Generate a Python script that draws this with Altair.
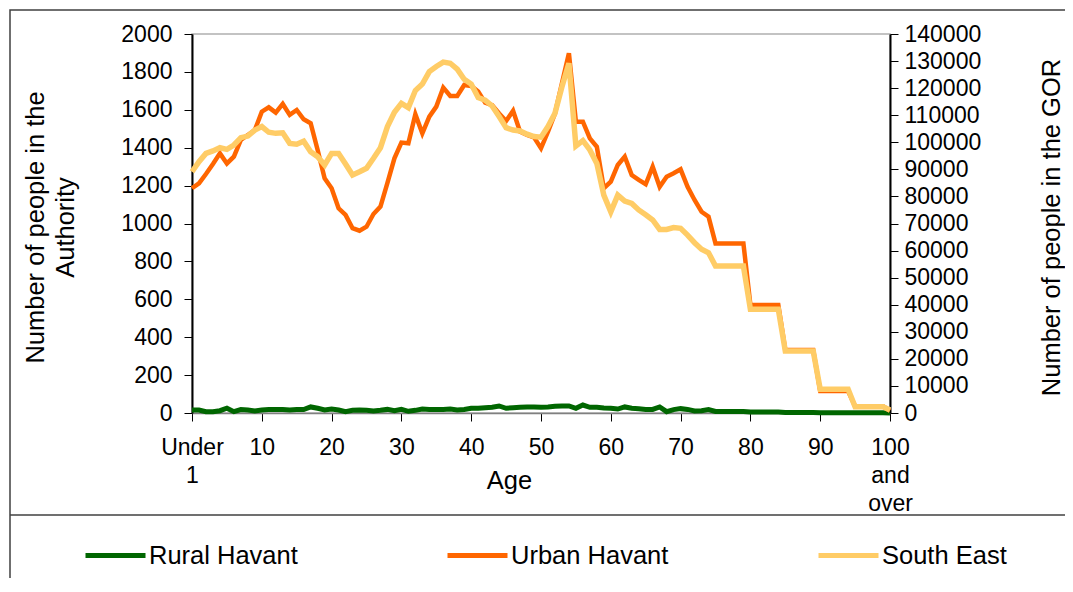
import altair as alt
import pandas as pd

ages = list(range(101))

rural = [16, 16, 7, 7, 12, 25, 7, 18, 16, 11,
         16, 18, 18, 18, 16, 18, 18, 32, 25, 16,
         21, 16, 7, 14, 16, 14, 11, 14, 19, 12,
         19, 9, 14, 21, 19, 18, 18, 21, 16, 19,
         25, 25, 28, 30, 37, 25, 28, 30, 32, 32,
         30, 32, 35, 37, 37, 25, 42, 30, 30, 26,
         25, 21, 32, 25, 23, 19, 19, 32, 7, 18,
         23, 19, 11, 12, 18, 8, 8, 8, 8, 8,
         5, 5, 5, 5, 5, 3, 3, 3, 3, 3,
         1, 1, 1, 1, 1, 1, 1, 1, 1, 1, 0]

urban = [1186, 1212, 1261, 1314, 1370, 1317, 1353, 1441, 1467, 1493,
         1590, 1613, 1585, 1631, 1573, 1599, 1550, 1529, 1388, 1238,
         1186, 1080, 1045, 975, 962, 983, 1050, 1089, 1215, 1344,
         1427, 1423, 1576, 1476, 1564, 1617, 1717, 1673, 1673, 1731,
         1726, 1696, 1638, 1625, 1581, 1541, 1595, 1485, 1467, 1455,
         1397, 1485, 1580, 1740, 1898, 1537, 1537, 1449, 1405, 1186,
         1221, 1309, 1353, 1256, 1230, 1207, 1300, 1194, 1247, 1265,
         1286, 1194, 1124, 1062, 1036, 895, 895, 895, 895, 895,
         570, 570, 570, 570, 570, 332, 332, 332, 332, 332,
         116, 116, 116, 116, 116, 35, 35, 35, 35, 35, 12]

south_east = [89100, 92800, 95900, 96800, 98000, 97400, 99000, 101700, 102300, 104500,
              105800, 103700, 103300, 103500, 99600, 99300, 100400, 96500, 94700, 91600,
              95900, 95900, 92000, 87900, 89100, 90400, 94100, 98000, 105800, 111100,
              114400, 112800, 119100, 121500, 126100, 128000, 129600, 129200, 127000, 123300,
              121500, 116500, 115600, 113400, 109500, 105400, 104500, 104200, 103000, 102100,
              101900, 105800, 110700, 120500, 129200, 98600, 100600, 97200, 92200, 80500,
              74300, 80500, 78300, 77400, 75000, 73200, 71300, 67800, 67800, 68500,
              68200, 65700, 62900, 60500, 59200, 54300, 54300, 54300, 54300, 54300,
              38300, 38300, 38300, 38300, 38300, 22900, 22900, 22900, 22900, 22900,
              8750, 8750, 8750, 8750, 8750, 2300, 2300, 2300, 2300, 2300, 1100]

series_names = ["Rural Havant", "Urban Havant", "South East"]
series_colors = ["#006600", "#FF6600", "#FFCC66"]

x_tick_values = list(range(0, 101, 10))
left_tick_values = list(range(0, 2001, 200))
right_tick_values = list(range(0, 140001, 10000))

FONT = "Liberation Sans"
TICK_FS = 23
TITLE_FS = 25.5

df_rural = pd.DataFrame({"age": ages, "value": rural, "series": series_names[0]})
df_urban = pd.DataFrame({"age": ages, "value": urban, "series": series_names[1]})
df_se = pd.DataFrame({"age": ages, "value": south_east, "series": series_names[2]})

color = alt.Color(
    "series:N",
    scale=alt.Scale(domain=series_names, range=series_colors),
    legend=alt.Legend(
        title=None,
        orient="none",
        legendX=-109,
        legendY=489,
        direction="horizontal",
        symbolType="stroke",
        symbolSize=3600,
        symbolStrokeWidth=5,
        labelFontSize=25.5,
        labelFont=FONT,
        labelColor="#000000",
        labelOffset=1,
        labelLimit=400,
        columnPadding=139,
    ),
)

x_enc = alt.X(
    "age:Q",
    scale=alt.Scale(domain=[0, 100], nice=False, zero=False),
    axis=alt.Axis(
        values=x_tick_values,
        labelExpr="datum.value == 0 ? ['Under', '1'] : (datum.value == 100 ? ['100', 'and', 'over'] : datum.label)",
        title="Age",
        titleFont=FONT,
        titleFontSize=TITLE_FS,
        titleFontWeight="normal",
        titleColor="#000000",
        titleX=317,
        titleY=67,
        titleAlign="center",
        titleBaseline="middle",
        labelFont=FONT,
        labelFontSize=TICK_FS,
        labelColor="#000000",
        labelLineHeight=28,
        labelPadding=15,
        labelOverlap=False,
        labelFlush=False,
        tickSize=8,
        tickColor="#000000",
        domainColor="#808080",
        domainWidth=1.5,
        grid=False,
    ),
)

y_left = alt.Y(
    "value:Q",
    scale=alt.Scale(domain=[0, 2000], nice=False),
    axis=alt.Axis(
        orient="left",
        values=left_tick_values,
        format="d",
        title=["Number of people in the", "Authority"],
        titleFont=FONT,
        titleFontSize=TITLE_FS,
        titleFontWeight="normal",
        titleColor="#000000",
        titleAngle=270,
        titleX=-157,
        titleY=193,
        titleAlign="center",
        titleBaseline="middle",
        titleLineHeight=30,
        labelFont=FONT,
        labelFontSize=TICK_FS,
        labelColor="#000000",
        labelPadding=12,
        tickSize=8,
        tickColor="#000000",
        domainColor="#000000",
        domainWidth=2,
        grid=False,
    ),
)

y_right = alt.Y(
    "value:Q",
    scale=alt.Scale(domain=[0, 140000], nice=False),
    axis=alt.Axis(
        orient="right",
        values=right_tick_values,
        format="d",
        title="Number of people in the GOR",
        titleFont=FONT,
        titleFontSize=TITLE_FS,
        titleFontWeight="normal",
        titleColor="#000000",
        titleAngle=270,
        titleX=161,
        titleY=193,
        titleAlign="center",
        titleBaseline="middle",
        labelFont=FONT,
        labelFontSize=TICK_FS,
        labelColor="#000000",
        labelPadding=6,
        tickSize=8,
        tickColor="#000000",
        domainColor="#000000",
        domainWidth=2,
        grid=False,
    ),
)

rural_line = alt.Chart(df_rural).mark_line(strokeWidth=5).encode(x=x_enc, y=y_left, color=color)
urban_line = alt.Chart(df_urban).mark_line(strokeWidth=4.5).encode(x=x_enc, y=y_left, color=color)
left_layer = alt.layer(rural_line, urban_line)

se_line = alt.Chart(df_se).mark_line(strokeWidth=5.5).encode(x=x_enc, y=y_right, color=color)

frame_df = pd.DataFrame({"k": [0]})
frame = alt.Chart(frame_df).mark_rect(fill="transparent", stroke="#404040", strokeWidth=1.5).encode(
    x=alt.value(-182), x2=alt.value(910), y=alt.value(-24), y2=alt.value(600)
)
separator = alt.Chart(frame_df).mark_rule(stroke="#404040", strokeWidth=1.5).encode(
    x=alt.value(-182), x2=alt.value(910), y=alt.value(481)
)

chart = (
    alt.layer(left_layer, se_line, frame, separator)
    .resolve_scale(y="independent")
    .properties(
        width=698,
        height=379,
        autosize=alt.AutoSizeParams(type="none"),
        padding={"left": 184, "top": 26, "right": 175, "bottom": 165},
    )
    .configure_view(stroke="#b0b0b0", strokeWidth=1.5)
)

chart.save("out.html", embed_options={"renderer": "svg", "actions": False})
